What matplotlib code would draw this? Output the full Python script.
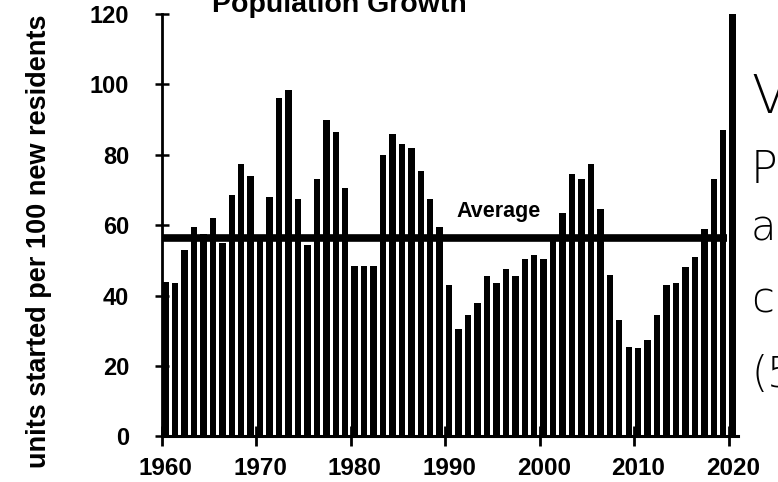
import numpy as np
import matplotlib
matplotlib.use('Agg')
import matplotlib.pyplot as plt

# data
years = list(range(1960, 2021))
units = [44, 43.5, 53, 59.5, 57.5, 62, 55, 68.5, 77.5, 74,
         55.5, 68, 96, 98.5, 67.5, 54.5, 73, 90, 86.5, 70.5,
         48.5, 48.5, 48.5, 80, 86, 83, 82, 75.5, 67.5, 59.5,
         43, 30.5, 34.5, 38, 45.5, 43.5, 47.5, 45.5, 50.5, 51.5,
         50.5, 56.5, 63.5, 74.5, 73, 77.5, 64.5, 46, 33, 25.5,
         25, 27.5, 34.5, 43, 43.5, 48, 51, 59, 73, 87, 120]
average = 56.5
xtick_years = list(range(1960, 2021, 10))
ytick_vals = list(range(0, 121, 20))
notes = ['V', 'Pe', 'a', 'c', '(5']

plt.rcParams['font.family'] = ['Liberation Sans', 'DejaVu Sans']

fig = plt.figure(figsize=(7.78, 4.82), dpi=100)
ax = fig.add_axes([0.2078, 0.0944, 0.741, 0.8766])

# bars
ax.bar(np.array(years) + 0.42, units, width=0.68, color='black')

# average line
ax.hlines(average, 1960, 2019.8, color='black', lw=5.5)
ax.text(1991.2, 62.4, 'Average', fontsize=15.5, fontweight='bold',
        ha='left', va='baseline')

ax.set_xlim(1960, 2021)
ax.set_ylim(0, 120)

for s in ['top', 'right']:
    ax.spines[s].set_visible(False)
ax.spines['left'].set_linewidth(2)
ax.spines['bottom'].set_linewidth(2.2)

# ticks at the years, labels a bit to the right (under the bars)
ax.set_xticks(xtick_years)
ax.set_xticklabels([])
ax.tick_params(axis='x', which='major', direction='inout', length=14, width=2)
ax.set_xticks([y + 0.45 for y in xtick_years], minor=True)
ax.set_xticklabels([str(y) for y in xtick_years], minor=True,
                   fontsize=17.5, fontweight='bold')
ax.tick_params(axis='x', which='minor', length=0, pad=15)

ax.set_yticks(ytick_vals)
ax.set_yticklabels([str(v) for v in ytick_vals], fontsize=17, fontweight='bold')
ax.tick_params(axis='y', direction='inout', length=9.6, width=1.8, pad=18.5)

fig.text(39 / 778, 0.5, 'units started per 100 new residents', rotation=90,
         ha='center', va='center', fontsize=19.5, fontweight='bold')

fig.text(339 / 778, 1 - 12.5 / 482, 'Population Growth', ha='center',
         va='baseline', fontsize=20.5, fontweight='bold')

# handwritten notes at the right edge
note_y = [98, 170, 228, 300, 375]
note_size = [38, 32, 30, 30, 30]
for t, yy, fs in zip(notes, note_y, note_size):
    fig.text(751 / 778, 1 - yy / 482, t, ha='left', va='center',
             fontsize=fs, family='DejaVu Sans', fontweight='light')

fig.savefig('out.png', dpi=100)
